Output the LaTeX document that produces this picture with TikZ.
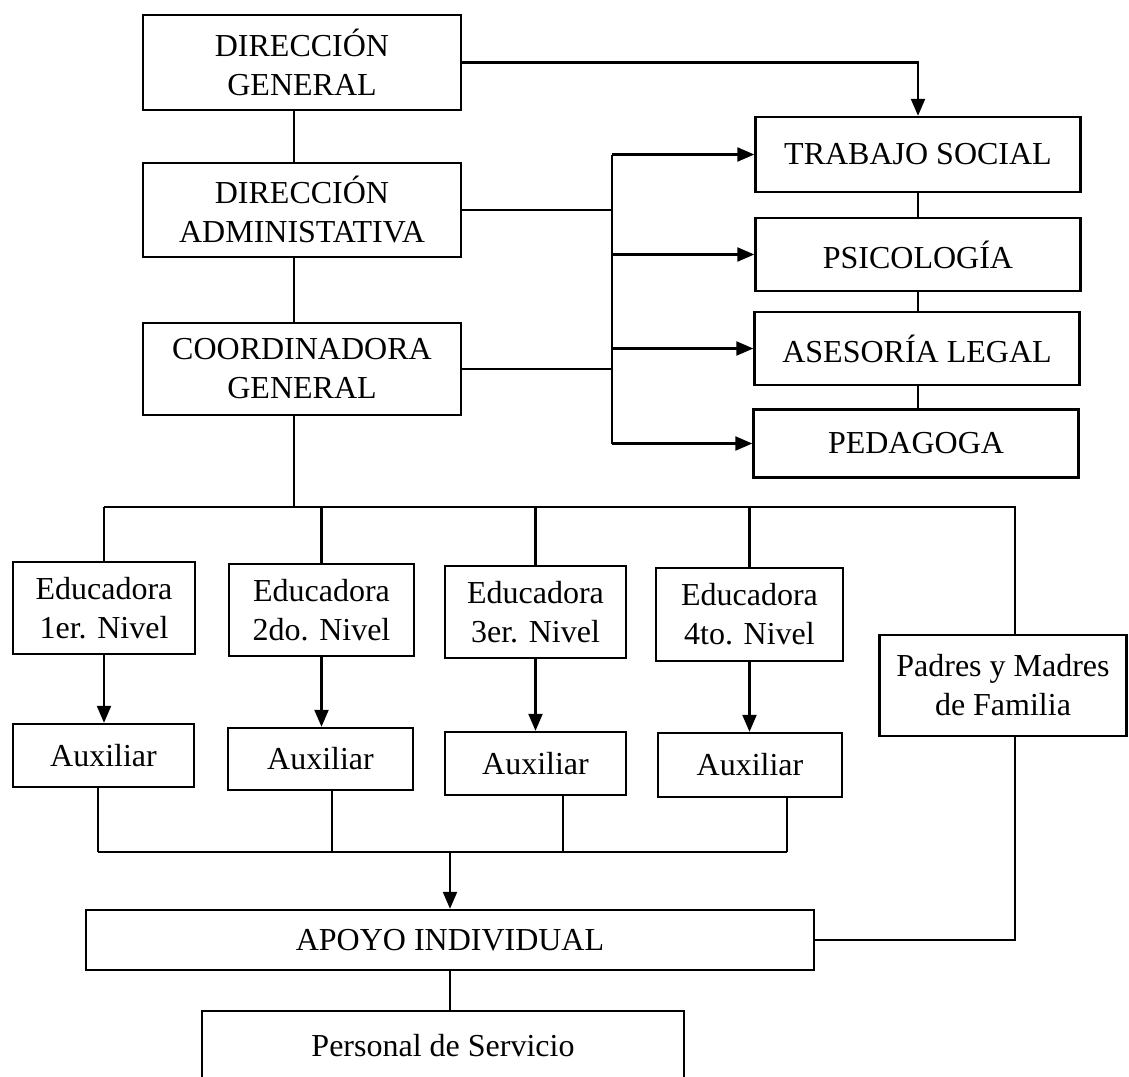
\documentclass[tikz,border=0pt]{standalone}
\usepackage{fontspec}
\setmainfont{Liberation Serif}
\usetikzlibrary{arrows.meta}

\begin{document}
\begin{tikzpicture}[x=1pt, y=-1pt,
      box/.style={draw=black, line width=2.4pt, rectangle, inner sep=0pt, align=center,
        font=\fontsize{32}{39}\selectfont},
      link/.style={line width=2.2pt},
      arr/.style={line width=2.2pt, -{Triangle[length=17pt, width=14pt]}}
    ]
    \useasboundingbox (0,0) rectangle (1129,1076);

    % direccion
    \node [box, minimum width=318pt, minimum height=95pt] (dg) at (302, 62.5) {DIRECCIÓN\\GENERAL};
    \node [box, minimum width=318pt, minimum height=94pt] (da) at (302, 210) {DIRECCIÓN\\ADMINISTATIVA};
    \node [box, minimum width=318pt, minimum height=92pt] (cg) at (302, 369) {COORDINADORA\\GENERAL};

    % apoyo tecnico
    \node [box, minimum width=325pt, minimum height=75pt] (ts) at (918, 154.5) {TRABAJO SOCIAL};
    \node [box, minimum width=325pt, minimum height=73pt] (ps) at (918, 254.5) {PSICOLOGÍA};
    \node [box, minimum width=325pt, minimum height=73pt] (al) at (917, 348.5) {ASESORÍA LEGAL};
    \node [box, minimum width=325pt, minimum height=68pt] (pe) at (916, 443.5) {PEDAGOGA};

    % educadoras
    \node [box, minimum width=182pt, minimum height=92pt] (ed1) at (104, 608) {Educadora\\1er. Nivel};
    \node [box, minimum width=185pt, minimum height=92pt] (ed2) at (321.5, 610) {Educadora\\2do. Nivel};
    \node [box, minimum width=181pt, minimum height=92pt] (ed3) at (535.5, 612) {Educadora\\3er. Nivel};
    \node [box, minimum width=187pt, minimum height=93pt] (ed4) at (749.5, 614.5) {Educadora\\4to. Nivel};
    \node [box, minimum width=181pt, minimum height=63pt] (aux1) at (103.5, 755.5) {Auxiliar};
    \node [box, minimum width=185pt, minimum height=62pt] (aux2) at (320.5, 759) {Auxiliar};
    \node [box, minimum width=181pt, minimum height=63pt] (aux3) at (535.5, 763.5) {Auxiliar};
    \node [box, minimum width=184pt, minimum height=64pt] (aux4) at (750, 765) {Auxiliar};
    \node [box, minimum width=247pt, minimum height=101pt] (padres) at (1003, 685.5) {Padres y Madres\\de Familia};

    % abajo
    \node [box, minimum width=728pt, minimum height=60pt] (apoyo) at (450, 940) {APOYO INDIVIDUAL};
    \node [box, minimum width=482pt, minimum height=69pt] (pers) at (443, 1045.5) {Personal de Servicio};

    % lineas de mando
    \coordinate (spine) at (294, 0);
    \draw[link] (dg.south -| spine) -- (da.north -| spine);
    \draw[link] (da.south -| spine) -- (cg.north -| spine);
    \draw[arr] (dg.east) -| (ts.north);
    \draw[link] (ts.south) -- (ts.south |- ps.north);
    \draw[link] (ts.south |- ps.south) -- (ts.south |- al.north);
    \draw[link] (ts.south |- al.south) -- (ts.south |- pe.north);

    \coordinate (bus) at (612, 154.5);
    \draw[link] (bus) -- (bus |- pe.west);
    \draw[link] (da.east) -- (da.east -| bus);
    \draw[link] (cg.east) -- (cg.east -| bus);
    \foreach \n in {ts, ps, al, pe}
        \draw[arr] (\n.west -| bus) -- (\n.west);

    \coordinate (mid) at (104, 507);
    \coordinate (midr) at (1015, 507);
    \draw[link] (cg.south -| spine) -- (spine |- mid);
    \draw[link] (mid) -- (midr) -- (midr |- padres.north);
    \foreach \n in {ed1, ed2, ed3, ed4}
        \draw[link] (\n.north |- mid) -- (\n.north);
    \foreach \n in {1, 2, 3, 4}
        \draw[arr] (ed\n.south) -- (ed\n.south |- aux\n.north);

    \coordinate (l1) at (98, 852);
    \coordinate (l2) at (332, 852);
    \coordinate (l3) at (563, 852);
    \coordinate (l4) at (787, 852);
    \foreach \n in {1, 2, 3, 4}
        \draw[link] (l\n |- aux\n.south) -- (l\n);
    \draw[link] (l1) -- (l4);
    \draw[arr] (apoyo.north |- l1) -- (apoyo.north);
    \draw[link] (padres.south -| midr) |- (apoyo.east);
    \draw[link] (apoyo.south) -- (apoyo.south |- pers.north);

\end{tikzpicture}
\end{document}
